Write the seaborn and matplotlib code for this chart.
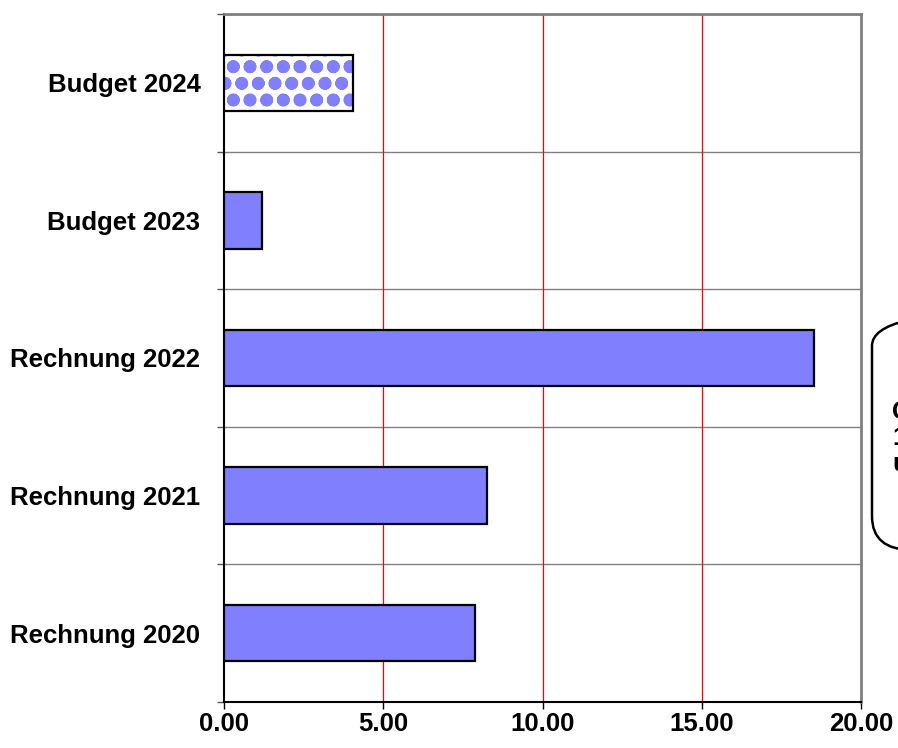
import numpy as np
import pandas as pd
import seaborn as sns
import matplotlib.pyplot as plt
from matplotlib.patches import Rectangle, FancyBboxPatch
from matplotlib.ticker import FixedLocator

# data
categories = ["Budget 2024", "Budget 2023", "Rechnung 2022", "Rechnung 2021", "Rechnung 2020"]
values = [4.05, 1.19, 18.52, 8.26, 7.88]
xticks = [0, 5, 10, 15, 20]
callout_lines = ["Genehmigte", "1.", "und"]

df = pd.DataFrame({"kategorie": categories, "wert": values})

sns.set_style("white")
plt.rcParams["font.family"] = ["Liberation Sans", "DejaVu Sans"]
plt.rcParams["text.color"] = "black"
plt.rcParams["xtick.color"] = "black"
plt.rcParams["ytick.color"] = "black"
plt.rcParams["hatch.linewidth"] = 4.5

fig = plt.figure(figsize=(8.98, 7.48), dpi=100)
ax = fig.add_axes([224 / 898, 1 - 702 / 748, (861 - 224) / 898, (702 - 14) / 748])

sns.barplot(data=df, x="wert", y="kategorie", order=categories, orient="h",
            color="#8080FF", saturation=1, width=0.41, edgecolor="black",
            linewidth=1.6, ax=ax, zorder=3)

# hatched budget bar (first bar)
bar = ax.patches[0]
bar.set_facecolor("white")
bar.set_edgecolor("#8080FF")
bar.set_hatch("o")
bar.set_linewidth(0)
ax.add_patch(Rectangle(bar.get_xy(), bar.get_width(), bar.get_height(),
                       fill=False, edgecolor="black", linewidth=1.6, zorder=4))

ax.set_xlim(0, 20)
ax.set_ylim(len(categories) - 0.5, -0.5)
ax.set_xticks(xticks)
ax.set_xticklabels([f"{v:.2f}" for v in xticks], fontsize=18.5, fontweight="bold")
ax.set_yticks(range(len(categories)))
ax.set_yticklabels(categories, fontsize=18.5, fontweight="bold")
ax.yaxis.set_minor_locator(FixedLocator(np.arange(-0.5, len(categories), 1.0)))
ax.tick_params(axis="y", which="major", length=0, pad=17)
ax.tick_params(axis="y", which="minor", length=5, width=1, color="#555555", left=True)
ax.tick_params(axis="x", which="major", length=5, width=1, color="black", bottom=True, pad=2)
ax.set_xlabel("")
ax.set_ylabel("")

ax.grid(False)
for x in xticks[1:-1]:
    ax.axvline(x, color="#FF0000", linewidth=0.9, zorder=1)
ax.yaxis.grid(True, which="minor", color="#808080", linewidth=1, zorder=1)

for side in ["top", "right"]:
    ax.spines[side].set_color("#808080")
    ax.spines[side].set_linewidth(2)
for side in ["left", "bottom"]:
    ax.spines[side].set_color("black")
    ax.spines[side].set_linewidth(1.5)

# callout box cut by the right edge
box = FancyBboxPatch((872 / 898, 1 - 550 / 748), 0.2, (550 - 312) / 748,
                     boxstyle="round,pad=0,rounding_size=0.045",
                     transform=fig.transFigure, fill=False, edgecolor="black",
                     linewidth=1.8)
fig.patches.append(box)
for i, line in enumerate(callout_lines):
    fig.text(892 / 898, 1 - (412 + i * 26) / 748, line, fontsize=18.5,
             fontweight="bold", va="center", ha="left")

fig.savefig("out.png", dpi=100)
